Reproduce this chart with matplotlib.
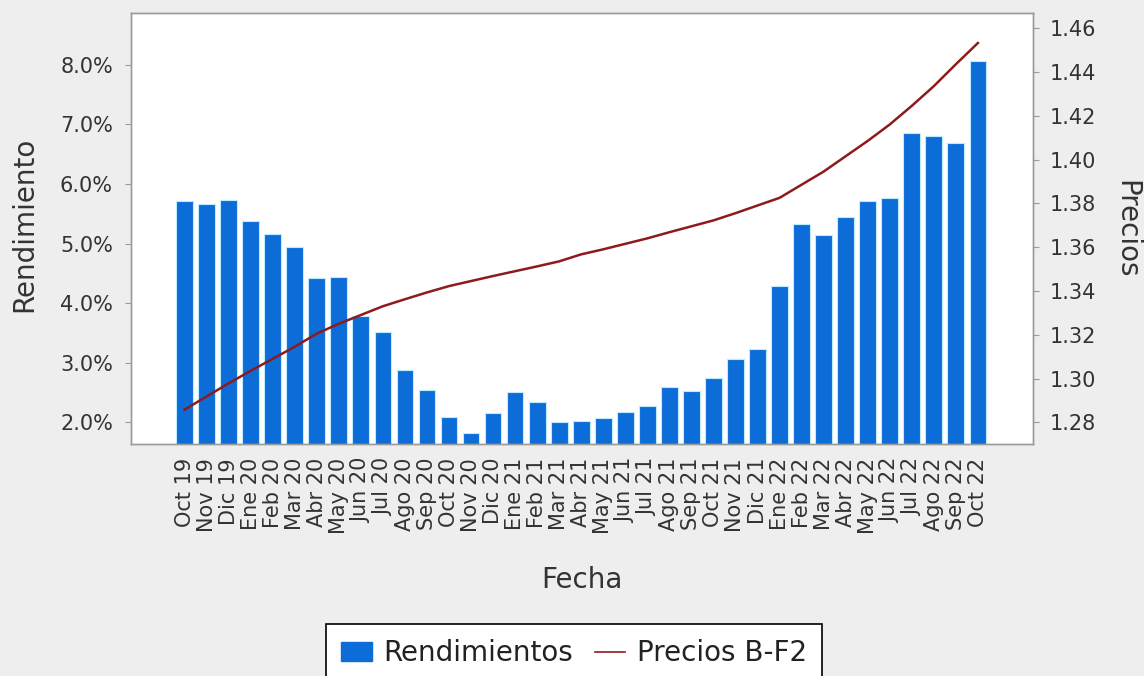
import matplotlib
matplotlib.use("Agg")
import matplotlib.pyplot as plt
from matplotlib.ticker import FuncFormatter, FixedLocator
from matplotlib.patches import Patch
from matplotlib.lines import Line2D

categories = ["Oct 19", "Nov 19", "Dic 19", "Ene 20", "Feb 20", "Mar 20", "Abr 20", "May 20",
              "Jun 20", "Jul 20", "Ago 20", "Sep 20", "Oct 20", "Nov 20", "Dic 20", "Ene 21",
              "Feb 21", "Mar 21", "Abr 21", "May 21", "Jun 21", "Jul 21", "Ago 21", "Sep 21",
              "Oct 21", "Nov 21", "Dic 21", "Ene 22", "Feb 22", "Mar 22", "Abr 22", "May 22",
              "Jun 22", "Jul 22", "Ago 22", "Sep 22", "Oct 22"]

rendimientos = [5.72, 5.67, 5.73, 5.38, 5.16, 4.95, 4.43, 4.44, 3.78, 3.51, 2.88, 2.55,
                2.09, 1.83, 2.16, 2.51, 2.34, 2.00, 2.03, 2.08, 2.17, 2.28, 2.60, 2.53,
                2.75, 3.07, 3.23, 4.28, 5.33, 5.15, 5.44, 5.71, 5.77, 6.85, 6.80, 6.69, 8.07]

precios = [1.2858, 1.2918, 1.2978, 1.3035, 1.3090, 1.3145, 1.3205, 1.3250, 1.3290, 1.3330,
           1.3362, 1.3393, 1.3422, 1.3445, 1.3468, 1.3490, 1.3512, 1.3535, 1.3567, 1.3590,
           1.3615, 1.3640, 1.3668, 1.3695, 1.3722, 1.3755, 1.3790, 1.3825, 1.3885, 1.3945,
           1.4015, 1.4085, 1.4160, 1.4245, 1.4335, 1.4435, 1.4532]

left_ticks = [2.0, 3.0, 4.0, 5.0, 6.0, 7.0, 8.0]
right_ticks = [1.28, 1.30, 1.32, 1.34, 1.36, 1.38, 1.40, 1.42, 1.44, 1.46]

bg = "#EEEEEE"
bar_color = "#0D6DD8"
line_color = "#8E1B1B"
spine_color = "#9A9A9A"
text_color = "#333333"

W, H = 1144, 676
fig = plt.figure(figsize=(W / 100, H / 100), dpi=100, facecolor=bg)
ax = fig.add_axes([131 / W, 1 - 444 / H, (1033 - 131) / W, (444 - 13) / H])
ax.set_facecolor("white")

x = list(range(len(categories)))
ax.bar(x, rendimientos, width=0.76, color=bar_color, edgecolor="#BDEBFF",
       linewidth=0.8, zorder=2)
ax.set_xlim(-2.43, 38.5)
ax.set_ylim(1.638, 8.867)
ax.yaxis.set_major_locator(FixedLocator(left_ticks))
ax.yaxis.set_major_formatter(FuncFormatter(lambda v, p: f"{v:.1f}%"))
ax.set_xticks(x)
ax.set_xticklabels(categories, rotation=90, fontsize=15, color=text_color)
ax.tick_params(axis="x", length=0, pad=10)
ax.tick_params(axis="y", length=4, color=spine_color, labelsize=15,
               labelcolor=text_color, pad=9)

ax2 = ax.twinx()
ax2.plot(x, precios, color=line_color, linewidth=1.8, zorder=3)
ax2.set_ylim(1.2701, 1.4669)
ax2.yaxis.set_major_locator(FixedLocator(right_ticks))
ax2.yaxis.set_major_formatter(FuncFormatter(lambda v, p: f"{v:.2f}"))
ax2.tick_params(axis="y", length=4, color=spine_color, labelsize=15,
                labelcolor=text_color, pad=8)

for a in (ax, ax2):
    for s in a.spines.values():
        s.set_color(spine_color)
        s.set_linewidth(1.0)

fig.text(582 / W, 1 - 580 / H, "Fecha", fontsize=20, color=text_color,
         ha="center", va="center")
fig.text(24 / W, 1 - 224 / H, "Rendimiento", fontsize=20, color=text_color,
         ha="center", va="center", rotation=90)
fig.text(1126 / W, 1 - 229 / H, "Precios", fontsize=20, color=text_color,
         ha="center", va="center", rotation=270)

handles = [Patch(facecolor=bar_color, edgecolor=bar_color),
           Line2D([0], [0], color=line_color, linewidth=1.2)]
leg = fig.legend(handles, ["Rendimientos", "Precios B-F2"], loc="upper center",
                 bbox_to_anchor=(574 / W, 1 - 624 / H), ncol=2, fontsize=20,
                 frameon=True, fancybox=False, edgecolor="black", framealpha=1,
                 handlelength=1.1, handletextpad=0.4, columnspacing=0.8,
                 borderpad=0.55, borderaxespad=0, labelcolor="#222222")
leg.get_frame().set_linewidth(1.2)

fig.savefig("out.png", dpi=100, facecolor=bg)
